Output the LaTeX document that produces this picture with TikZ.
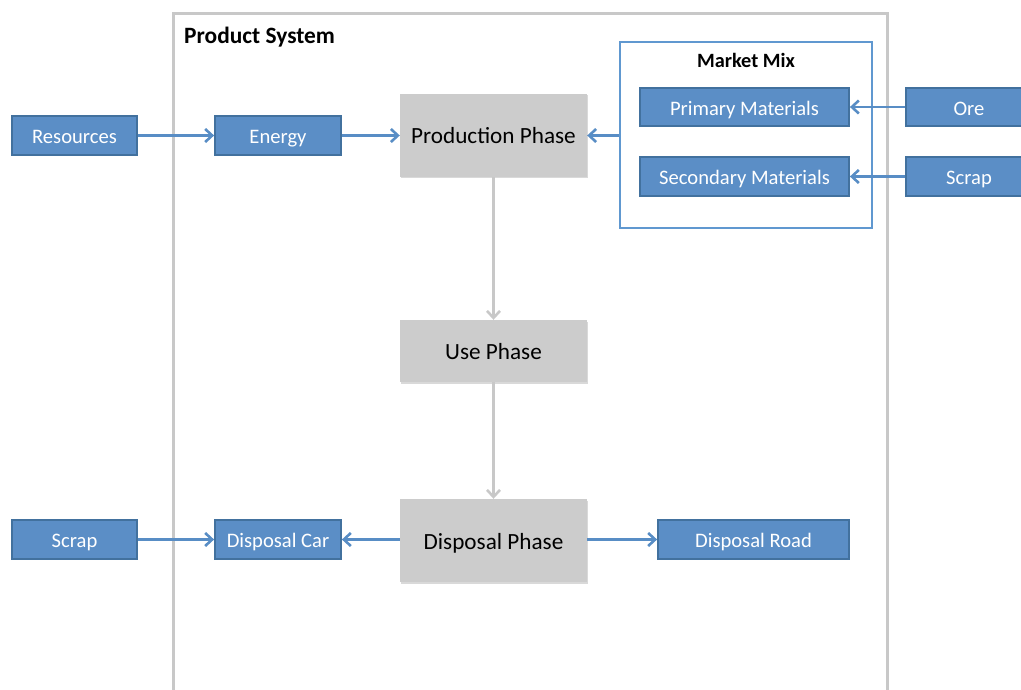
\documentclass[tikz,border=0pt]{standalone}
\usepackage{fontspec}
\setmainfont{Carlito}
\usetikzlibrary{arrows.meta,shadows}
\definecolor{bfill}{RGB}{91,142,198}
\definecolor{bdraw}{RGB}{66,113,158}
\definecolor{barrow}{RGB}{88,141,197}
\definecolor{gfill}{RGB}{204,204,204}
\definecolor{gline}{RGB}{200,200,200}
\definecolor{mmline}{RGB}{96,152,208}
\tikzset{
  bluebox/.style={rectangle, fill=bfill, draw=bdraw, line width=1.8pt, text=white,
    inner sep=0pt, minimum height=38pt, font=\fontsize{20.6}{24}\selectfont,
    text height=16.3pt, text depth=0pt},
  phasebox/.style={rectangle, fill=gfill, inner sep=0pt, minimum width=187pt,
    font=\fontsize{23.2}{27}\selectfont, text=black, text height=17pt, text depth=0pt,
    drop shadow={shadow xshift=1.2pt, shadow yshift=-1.5pt, fill=black!25, opacity=0.6}},
  bluearrow/.style={draw=barrow, line width=2.6pt, -{Straight Barb[length=7pt,width=13pt,line width=2.6pt]}},
  grayarrow/.style={draw=gline, line width=2.6pt, -{Straight Barb[length=7pt,width=13pt,line width=2.6pt]}},
  titletext/.style={font=\bfseries\fontsize{20.3}{24}\selectfont, inner sep=0pt,
    text height=16pt, text depth=0pt}
}
\begin{document}
\begin{tikzpicture}[x=1pt,y=-1pt]
\useasboundingbox (0,0) rectangle (1021,690);
\begin{scope}
\clip (0,0) rectangle (1021,690);
% Product System frame
\draw[gline, line width=3pt] (173,700) -- (173,14) -- (887,14) -- (887,700);
\node[titletext, font=\bfseries\fontsize{23.4}{28}\selectfont, text height=18.5pt, anchor=west] (pstitle) at (184,34) {Product System};
% Market mix frame
\node[draw=mmline, line width=1.4pt, minimum width=252pt, minimum height=186pt, inner sep=0pt] (mm) at (746,135) {};
\node[titletext] (mmtitle) at (746,60) {Market Mix};
% blue boxes
\node[bluebox, minimum width=125pt, minimum height=39pt] (res) at (74.5,135.5) {Resources};
\node[bluebox, minimum width=126pt, minimum height=39pt] (energy) at (278,135.5) {Energy};
\node[bluebox, minimum width=209pt] (prim) at (744.5,107) {Primary Materials};
\node[bluebox, minimum width=209pt, minimum height=39pt] (sec) at (744.5,176.5) {Secondary Materials};
\node[bluebox, minimum width=126pt] (ore) at (969,107) {Ore};
\node[bluebox, minimum width=126pt, minimum height=39pt] (scrapR) at (969,176.5) {Scrap};
\node[bluebox, minimum width=125pt, minimum height=39pt] (scrapL) at (74.5,539.5) {Scrap};
\node[bluebox, minimum width=126pt, minimum height=39pt] (car) at (278,539.5) {Disposal Car};
\node[bluebox, minimum width=191pt, minimum height=39pt] (road) at (753.5,539.5) {Disposal Road};
% phase boxes
\node[phasebox, minimum height=83pt] (prod) at (493.5,135.5) {Production Phase};
\node[phasebox, minimum height=62pt] (use) at (493.5,351) {Use Phase};
\node[phasebox, minimum height=83pt] (disp) at (493.5,540.5) {Disposal Phase};
% arrows
\draw[bluearrow] (res.east) -- (energy.west);
\draw[bluearrow] (energy.east) -- (prod.west |- energy.east);
\draw[bluearrow] (mm.west |- prod.east) -- (prod.east);
\draw[bluearrow] (ore.west) -- (prim.east);
\draw[bluearrow] (scrapR.west) -- (sec.east);
\draw[bluearrow] (scrapL.east) -- (car.west);
\draw[bluearrow] (disp.west |- car.east) -- (car.east);
\draw[bluearrow] (disp.east |- road.west) -- (road.west);
\draw[grayarrow] (prod.south) -- (use.north);
\draw[grayarrow] (use.south) -- (disp.north);
\end{scope}
\end{tikzpicture}
\end{document}
